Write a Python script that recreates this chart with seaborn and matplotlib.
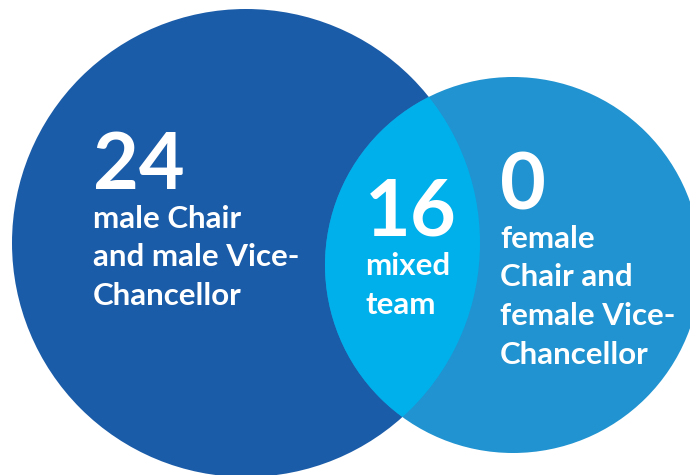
import matplotlib
matplotlib.use("Agg")
import matplotlib.pyplot as plt
import seaborn as sns
from matplotlib.patches import Circle

# counts and labels
counts = ["24", "16", "0"]
label_male = ["male Chair", "and male Vice-", "Chancellor"]
label_mixed = ["mixed", "team"]
label_female = ["female", "Chair and", "female Vice-", "Chancellor"]

# colours
c_male = "#1b5ca8"
c_female = "#2093d0"
c_mixed = "#00b0eb"

sns.set_theme(style="white")
plt.rcParams["font.family"] = ["Lato", "DejaVu Sans"]

fig = plt.figure(figsize=(6.9, 4.75), dpi=100)
ax = fig.add_axes([0, 0, 1, 1])
ax.set_xlim(0, 690)
ax.set_ylim(475, 0)
ax.set_aspect("equal")
ax.axis("off")

# venn circles (pixel layout)
big = Circle((246, 243), 234, color=c_male, lw=0)
small = Circle((513, 265), 188, color=c_female, lw=0)
ax.add_patch(big)
ax.add_patch(small)
inter = Circle((513, 265), 188, color=c_mixed, lw=0)
ax.add_patch(inter)
inter.set_clip_path(big)

num_size = 57
lab_size = 22.5
lead = 38.5

def block(x, y_num, num, y_first, lines):
    ax.text(x, y_num, num, color="white", fontsize=num_size,
            fontweight="bold", ha="left", va="baseline")
    for i, s in enumerate(lines):
        ax.text(x, y_first + i * lead, s, color="white", fontsize=lab_size,
                fontweight="bold", ha="left", va="baseline")

block(93, 189, counts[0], 228, label_male)
block(365, 235, counts[1], 275, label_mixed)
block(500, 210, counts[2], 248, label_female)

fig.savefig("out.png", dpi=100)
